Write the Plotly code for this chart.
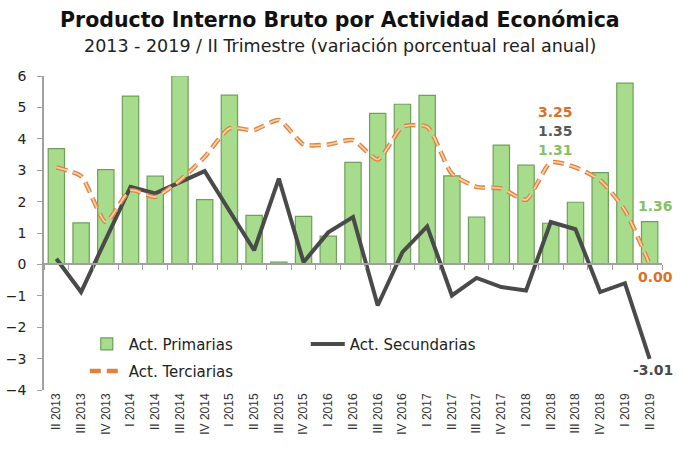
import plotly.graph_objects as go

categories = ["II 2013", "III 2013", "IV 2013", "I 2014", "II 2014", "III 2014", "IV 2014",
              "I 2015", "II 2015", "III 2015", "IV 2015", "I 2016", "II 2016", "III 2016",
              "IV 2016", "I 2017", "II 2017", "III 2017", "IV 2017", "I 2018", "II 2018",
              "III 2018", "IV 2018", "I 2019", "II 2019"]

primarias = [3.69, 1.32, 3.02, 5.36, 2.81, 6.01, 2.06, 5.39, 1.56, 0.07, 1.53, 0.90,
             3.25, 4.81, 5.10, 5.38, 2.82, 1.51, 3.80, 3.16, 1.31, 1.98, 2.92, 5.77, 1.36]

secundarias = [0.18, -0.88, 0.80, 2.47, 2.26, 2.63, 2.97, 1.71, 0.45, 2.73, 0.07, 1.02,
               1.51, -1.31, 0.39, 1.21, -0.99, -0.43, -0.72, -0.83, 1.35, 1.12, -0.88, -0.60, -3.01]

terciarias = [3.09, 2.81, 1.35, 2.36, 2.15, 2.68, 3.42, 4.33, 4.28, 4.60, 3.82, 3.82,
              3.96, 3.34, 4.38, 4.38, 2.89, 2.47, 2.42, 2.06, 3.25, 3.09, 2.68, 1.72, 0.00]

y_ticks = [-4, -3, -2, -1, 0, 1, 2, 3, 4, 5, 6]

GREEN = "#a6dc8c"
GREEN_EDGE = "#6f9f5a"
GREEN_TXT = "#86c064"
DARK = "#4a4a4a"
ORANGE = "#e0823d"
ORANGE_IN = "#f9cfa8"
ORANGE_TXT = "#d9702b"
FONT = "DejaVu Sans"

fig = go.Figure()

fig.add_trace(go.Bar(
    x=categories, y=primarias, name="Act. Primarias",
    marker=dict(color=GREEN, line=dict(color=GREEN_EDGE, width=1.2)),
    width=0.66, legend="legend",
))
fig.add_trace(go.Scatter(
    x=categories, y=secundarias, name="Act. Secundarias", mode="lines",
    line=dict(color=DARK, width=4), legend="legend",
))
fig.add_trace(go.Scatter(
    x=categories, y=terciarias, name="Act. Terciarias", mode="lines",
    line=dict(color=ORANGE, width=4.5, dash="11px,6px", shape="spline", smoothing=0.6),
    legend="legend2",
))
fig.add_trace(go.Scatter(
    x=categories, y=terciarias, name="Act. Terciarias", mode="lines",
    line=dict(color=ORANGE_IN, width=1.8, dash="11px,6px", shape="spline", smoothing=0.6),
    showlegend=False, hoverinfo="skip",
))

# value labels
last = categories[-1]
hl = categories[20]
ann = [
    dict(x=hl, y=terciarias[20], text="<b>3.25</b>", font=dict(color=ORANGE_TXT, size=14), yshift=50, xshift=5),
    dict(x=hl, y=terciarias[20], text="<b>1.35</b>", font=dict(color="#595959", size=14), yshift=31, xshift=5),
    dict(x=hl, y=terciarias[20], text="<b>1.31</b>", font=dict(color=GREEN_TXT, size=14), yshift=12, xshift=5),
    dict(x=last, y=primarias[-1], text="<b>1.36</b>", font=dict(color=GREEN_TXT, size=14), yshift=16, xshift=6),
    dict(x=last, y=terciarias[-1], text="<b>0.00</b>", font=dict(color=ORANGE_TXT, size=14), yshift=-13, xshift=6),
    dict(x=last, y=secundarias[-1], text="<b>-3.01</b>", font=dict(color="#4a4a4a", size=14), yshift=-11, xshift=3),
]
for a in ann:
    a.update(xref="x", yref="y", showarrow=False, font_family=FONT)
    fig.add_annotation(**a)

fig.add_annotation(
    text="<b>Producto Interno Bruto por Actividad Económica</b>",
    xref="paper", yref="paper", x=0.479, y=1.0, yshift=56, showarrow=False,
    yanchor="middle", xanchor="center",
    font=dict(family=FONT, size=20.5, color="#111111"),
)
fig.add_annotation(
    text="2013 - 2019 / II Trimestre (variación porcentual real anual)",
    xref="paper", yref="paper", x=0.479, y=1.0, yshift=30, showarrow=False,
    yanchor="middle", xanchor="center",
    font=dict(family=FONT, size=17.5, color="#222222"),
)

fig.update_layout(
    width=683, height=454,
    margin=dict(l=44, r=21, t=76, b=64, autoexpand=False),
    paper_bgcolor="white", plot_bgcolor="white",
    showlegend=True,
    font=dict(family=FONT, color="#222222"),
    legend=dict(orientation="h", x=0.066, y=0.146, xanchor="left", yanchor="middle",
                font=dict(family=FONT, size=15, color="#222222"), entrywidth=172,
                bgcolor="rgba(0,0,0,0)", traceorder="normal", itemwidth=34),
    legend2=dict(orientation="h", x=0.066, y=0.06, xanchor="left", yanchor="middle",
                 font=dict(family=FONT, size=15, color="#222222"),
                 bgcolor="rgba(0,0,0,0)", itemwidth=34),
    xaxis=dict(
        type="category", categoryorder="array", categoryarray=categories,
        tickangle=-90, showgrid=False, showline=False, ticks="", automargin=False,
        tickfont=dict(family="Liberation Sans", size=12, color="#333333"),
        range=[-0.5, len(categories) - 0.5],
    ),
    xaxis2=dict(
        type="category", categoryorder="array", categoryarray=categories,
        overlaying="x", anchor="free", position=0.4, matches="x", automargin=False,
        showticklabels=False, showline=True, linecolor="#a0a0a0", linewidth=1.5,
        ticks="outside", tickson="boundaries", ticklen=5, tickcolor="#a0a0a0",
        showgrid=False,
    ),
    yaxis=dict(
        range=[-4, 6], tickvals=y_ticks, showgrid=False, zeroline=False, automargin=False,
        showline=True, linecolor="#a0a0a0", linewidth=1.5,
        ticks="outside", ticklen=5, tickcolor="#a0a0a0", ticklabelstandoff=8,
        tickfont=dict(family=FONT, size=14, color="#222222"),
    ),
)

# invisible trace to activate xaxis2
fig.add_trace(go.Scatter(x=categories, y=[None] * len(categories), xaxis="x2",
                         showlegend=False, hoverinfo="skip"))

fig.write_html("out.html", config={"displayModeBar": False},
               post_script="document.body.style.margin='0px';")
